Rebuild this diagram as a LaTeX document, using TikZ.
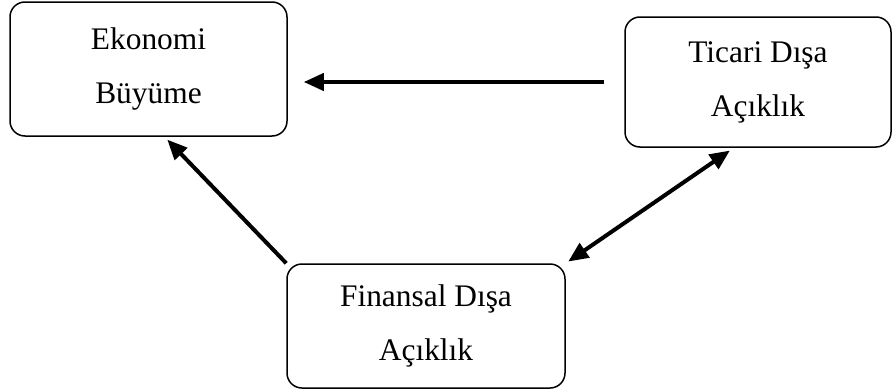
\documentclass[tikz,border=0pt]{standalone}
\usepackage{fontspec}
\setmainfont{Liberation Serif}
\usetikzlibrary{arrows.meta}

\begin{document}
\begin{tikzpicture}[x=0.5pt,y=-0.5pt,
    kutu/.style ={rectangle, draw, line width=0.75pt, rounded corners=7.5pt,
      inner sep=0pt, align=center, font=\fontsize{15.7}{27}\selectfont},
    ok/.style ={line width=2pt, -{Triangle[length=10pt,width=8.5pt]}},
    ciftok/.style ={line width=2pt, {Triangle[length=10pt,width=8.5pt]}-{Triangle[length=10pt,width=8.5pt]}}]
   \useasboundingbox (0,0) rectangle (894,391);
   \node[kutu, minimum width=138.5pt, minimum height=67pt] (E) at (148.5,69) {Ekonomi\\Büyüme};
   \node[kutu, minimum width=133pt, minimum height=65pt] (T) at (758,82) {Ticari Dışa\\Açıklık};
   \node[kutu, minimum width=139pt, minimum height=62pt] (F) at (426,326) {Finansal Dışa\\Açıklık};

   \draw[ok, shorten <=10pt, shorten >=8pt] (T.west) to (T.west -| E.east);
   \draw[ok, shorten >=2pt] (F.north west) to ([xshift=8pt]E.south);
   \draw[ciftok, shorten <=1.5pt, shorten >=2.5pt] (F.north east) to ([xshift=-12pt]T.south);
 \end{tikzpicture}
\end{document}
